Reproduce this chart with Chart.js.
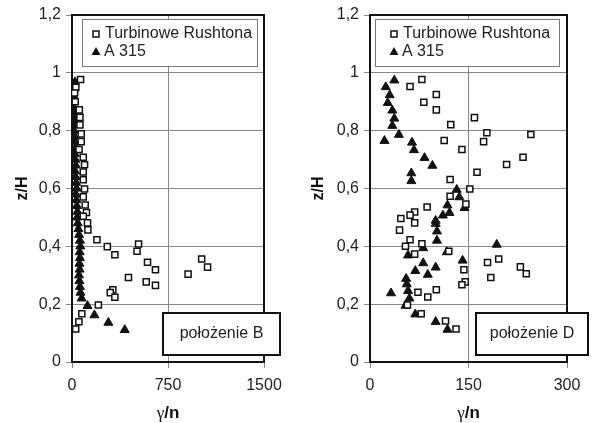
<!DOCTYPE html>
<html>
<head>
<meta charset="utf-8">
<script src="https://cdn.jsdelivr.net/npm/chart.js@4.4.1/dist/chart.umd.min.js"></script>
<style>
  body { margin: 0; background: #fff; }
  .panel { position: absolute; top: 0; height: 423px; }
</style>
</head>
<body>
<div class="panel" style="left:0;width:296px"><canvas id="chartB"></canvas></div>
<div class="panel" style="left:296px;width:297px"><canvas id="chartD"></canvas></div>
<script>
// dane
const seriesNames = ['Turbinowe Rushtona', 'A 315'];
const yTickLabels = ['0', '0,2', '0,4', '0,6', '0,8', '1', '1,2'];
const xTitle = ['γ', '/n'];

// położenie B
const rushtonB_x = [67, 30, 20, 25, 57, 62, 62, 72, 72, 55, 88, 98, 88, 88, 98, 88, 103, 113, 88, 121, 124,
  195, 276, 335, 520, 508, 590, 652, 441, 580, 652, 319, 299, 335, 907, 1013, 1059, 206, 77, 54, 29];
const rushtonB_z = [0.977, 0.95, 0.93, 0.90, 0.872, 0.846, 0.820, 0.789, 0.762, 0.735, 0.708, 0.682, 0.657, 0.630, 0.598, 0.571, 0.543, 0.517, 0.504, 0.481, 0.457,
  0.423, 0.399, 0.371, 0.408, 0.383, 0.345, 0.319, 0.292, 0.277, 0.265, 0.250, 0.240, 0.224, 0.304, 0.356, 0.328, 0.197, 0.167, 0.139, 0.114];
const a315B_x = [23, 15, 10, 12, 14, 18, 22, 20, 16, 20, 24, 28, 22, 26, 30, 24, 28, 32, 36, 30, 34, 38, 42, 40,
  45, 50, 55, 62, 65, 60, 62, 58, 60, 55, 58, 62, 66, 75, 121, 175, 284, 412];
const a315B_z = [0.968, 0.945, 0.92, 0.90, 0.88, 0.86, 0.84, 0.82, 0.80, 0.78, 0.76, 0.74, 0.72, 0.70, 0.68, 0.66, 0.64, 0.62, 0.60, 0.58, 0.56, 0.54, 0.52, 0.50,
  0.48, 0.46, 0.44, 0.42, 0.40, 0.38, 0.36, 0.34, 0.32, 0.30, 0.28, 0.26, 0.24, 0.22, 0.194, 0.162, 0.136, 0.111];

// położenie D
const rushtonD_x = [79, 61, 101, 82, 101, 159, 123, 178, 245, 173, 113, 140, 233, 208, 163, 122, 152, 122, 146, 87, 68, 61, 47,
  68, 45, 61, 54, 79, 68, 120, 179, 196, 229, 238, 184, 143, 145, 140, 101, 73, 88, 57, 78, 115, 131];
const rushtonD_z = [0.977, 0.953, 0.925, 0.898, 0.872, 0.845, 0.821, 0.793, 0.787, 0.762, 0.766, 0.735, 0.708, 0.683, 0.656, 0.631, 0.598, 0.573, 0.546, 0.536, 0.519, 0.508, 0.496,
  0.481, 0.456, 0.423, 0.400, 0.409, 0.373, 0.383, 0.344, 0.356, 0.329, 0.305, 0.292, 0.319, 0.277, 0.267, 0.250, 0.241, 0.225, 0.197, 0.167, 0.142, 0.114];
const a315D_x = [37, 24, 30, 27, 34, 37, 34, 44, 22, 64, 67, 83, 95, 63, 63, 132, 136, 144, 118, 121, 111, 100,
  100, 102, 102, 81, 58, 117, 193, 141, 81, 69, 100, 88, 55, 56, 58, 32, 60, 54, 69, 100, 118];
const a315D_z = [0.974, 0.951, 0.923, 0.896, 0.870, 0.842, 0.817, 0.786, 0.765, 0.759, 0.733, 0.706, 0.679, 0.653, 0.626, 0.596, 0.570, 0.533, 0.542, 0.516, 0.507, 0.489,
  0.478, 0.452, 0.420, 0.394, 0.369, 0.380, 0.406, 0.351, 0.342, 0.315, 0.327, 0.302, 0.288, 0.269, 0.246, 0.238, 0.220, 0.195, 0.165, 0.139, 0.112];

const FONT = "'Liberation Sans', Arial, sans-serif";
const toPoints = (xs, zs) => xs.map((x, i) => ({ x: x, y: zs[i] }));

// ramka wykresu
const framePlugin = {
  id: 'frame',
  beforeDatasetsDraw(chart) {
    const a = chart.chartArea, ctx = chart.ctx;
    ctx.save();
    ctx.strokeStyle = '#111';
    ctx.lineWidth = 2;
    ctx.strokeRect(a.left, a.top, a.right - a.left, a.bottom - a.top);
    ctx.restore();
  }
};

// legenda, opis położenia i tytuł osi x
const boxesPlugin = {
  id: 'boxes',
  afterDraw(chart, args, o) {
    const a = chart.chartArea, ctx = chart.ctx;
    ctx.save();
    ctx.font = '16px ' + FONT;
    ctx.textBaseline = 'middle';
    // legenda
    const lx = a.left + o.legendDx, ly = a.top + 4;
    ctx.fillStyle = '#fff';
    ctx.fillRect(lx, ly, o.legendW, 47);
    ctx.strokeStyle = '#777';
    ctx.lineWidth = 1;
    ctx.strokeRect(lx + 0.5, ly + 0.5, o.legendW, 47);
    const mx = lx + o.markDx;
    ctx.strokeStyle = '#111';
    ctx.lineWidth = 1.5;
    ctx.strokeRect(mx - 3, ly + 12, 6, 6);
    ctx.fillStyle = '#111';
    ctx.beginPath();
    ctx.moveTo(mx, ly + 28);
    ctx.lineTo(mx + 4.5, ly + 36);
    ctx.lineTo(mx - 4.5, ly + 36);
    ctx.closePath();
    ctx.fill();
    ctx.fillStyle = '#222';
    ctx.fillText(seriesNames[0], mx + 9, ly + 15);
    ctx.fillText(seriesNames[1], mx + 8, ly + 33);
    // położenie
    const bx = a.left + o.boxDx, by = a.bottom - 49;
    ctx.fillStyle = '#fff';
    ctx.fillRect(bx, by, o.boxW, 42);
    ctx.strokeStyle = '#111';
    ctx.lineWidth = 2;
    ctx.strokeRect(bx, by, o.boxW, 42);
    ctx.fillStyle = '#222';
    ctx.textAlign = 'center';
    ctx.fillText(o.label, bx + o.boxW / 2, by + 21);
    // tytuł osi x: γ/n
    const gFont = "17px 'Liberation Serif', 'DejaVu Serif', serif";
    const nFont = 'bold 17px ' + FONT;
    ctx.font = gFont;
    const gw = ctx.measureText(xTitle[0]).width;
    ctx.font = nFont;
    const nw = ctx.measureText(xTitle[1]).width;
    const tx = (a.left + a.right) / 2 - (gw + nw) / 2;
    ctx.textAlign = 'left';
    ctx.fillStyle = '#111';
    ctx.font = gFont;
    ctx.fillText(xTitle[0], tx, 414);
    ctx.font = nFont;
    ctx.fillText(xTitle[1], tx + gw, 413);
    ctx.restore();
  }
};

function makeChart(id, rushton, a315, xMax, xStep, yWidth, padRight, boxOpts) {
  return new Chart(document.getElementById(id), {
    type: 'scatter',
    data: {
      datasets: [
        {
          label: seriesNames[0],
          data: rushton,
          pointStyle: 'rect',
          radius: 4.3,
          borderColor: '#111',
          borderWidth: 1.5,
          backgroundColor: '#fff'
        },
        {
          label: seriesNames[1],
          data: a315,
          pointStyle: 'triangle',
          radius: 5.2,
          borderColor: '#111',
          borderWidth: 1,
          backgroundColor: '#111'
        }
      ]
    },
    options: {
      responsive: true,
      maintainAspectRatio: false,
      animation: false,
      layout: { padding: { top: 15, right: padRight, left: 0, bottom: 0 } },
      plugins: {
        legend: { display: false },
        tooltip: { enabled: false },
        boxes: boxOpts
      },
      scales: {
        x: {
          min: 0, max: xMax,
          afterFit: s => { s.height = 61; },
          ticks: { stepSize: xStep, color: '#222', padding: 8, font: { family: FONT, size: 16 },
                   callback: v => String(v) },
          grid: { color: '#888', lineWidth: 1, tickLength: 6, tickColor: '#888' },
          border: { color: '#111', width: 2 }
        },
        y: {
          min: 0, max: 1.2,
          afterFit: s => { s.width = yWidth; },
          ticks: { stepSize: 0.2, color: '#222', padding: 5, font: { family: FONT, size: 16 },
                   callback: (v, i) => yTickLabels[i] },
          grid: { color: '#888', lineWidth: 1, tickLength: 6, tickColor: '#888' },
          border: { color: '#111', width: 2 },
          title: { display: true, text: 'z/H', color: '#111', padding: { top: 13, bottom: 0 },
                   font: { family: FONT, size: 16, weight: 'bold' } }
        }
      }
    },
    plugins: [framePlugin, boxesPlugin]
  });
}

makeChart('chartB', toPoints(rushtonB_x, rushtonB_z), toPoints(a315B_x, a315B_z), 1500, 750, 72, 32,
  { legendDx: 10, legendW: 175, markDx: 14, boxDx: 91, boxW: 117, label: 'położenie B' });
makeChart('chartD', toPoints(rushtonD_x, rushtonD_z), toPoints(a315D_x, a315D_z), 300, 150, 74, 26,
  { legendDx: 5, legendW: 184, markDx: 19, boxDx: 106, boxW: 112, label: 'położenie D' });
</script>
</body>
</html>
